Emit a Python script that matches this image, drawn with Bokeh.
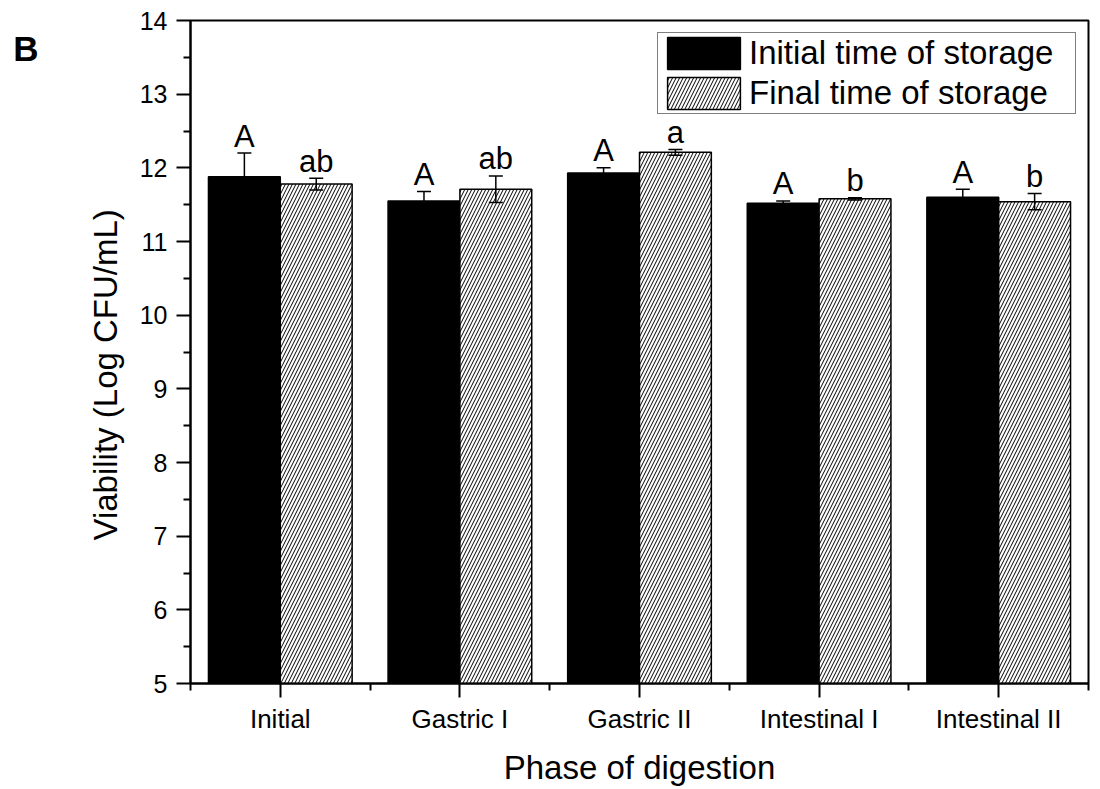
from bokeh.plotting import figure
from bokeh.models import (ColumnDataSource, Whisker, TeeHead, FixedTicker, Legend,
                          LegendItem, Range1d, Title, LinearAxis)
from bokeh.core.properties import value
from bokeh.embed import file_html
from bokeh.resources import INLINE

phases = ["Initial", "Gastric I", "Gastric II", "Intestinal I", "Intestinal II"]
initial_vals = [11.88, 11.55, 11.93, 11.52, 11.60]
initial_err = [0.32, 0.13, 0.07, 0.03, 0.11]
final_vals = [11.78, 11.71, 12.21, 11.58, 11.54]
final_err = [0.08, 0.18, 0.04, 0.015, 0.11]
initial_letters = ["A", "A", "A", "A", "A"]
final_letters = ["ab", "ab", "a", "b", "b"]
y_ticks = [5, 6, 7, 8, 9, 10, 11, 12, 13, 14]

FONT = "Liberation Sans"
pos = list(range(1, len(phases) + 1))
x_init = [p_ - 0.2 for p_ in pos]
x_fin = [p_ + 0.2 for p_ in pos]

src_i = ColumnDataSource(dict(x=x_init, top=initial_vals,
                              up=[v + e for v, e in zip(initial_vals, initial_err)],
                              lo=[v - e for v, e in zip(initial_vals, initial_err)],
                              lab=initial_letters))
src_f = ColumnDataSource(dict(x=x_fin, top=final_vals,
                              up=[v + e for v, e in zip(final_vals, final_err)],
                              lo=[v - e for v, e in zip(final_vals, final_err)],
                              lab=final_letters))

p = figure(width=1100, height=789, output_backend="svg", toolbar_location=None,
           x_range=Range1d(0.5, len(phases) + 0.5), y_range=Range1d(5, 14),
           min_border_left=190, min_border_right=12, min_border_top=20,
           min_border_bottom=106)
p.background_fill_color = "white"
p.border_fill_color = "white"
p.outline_line_color = "black"
p.outline_line_width = 2
p.xgrid.visible = False
p.ygrid.visible = False

r_i = p.vbar(x="x", top="top", bottom=5, width=0.4, source=src_i,
             fill_color="black", line_color="black", line_width=1.5)
r_f = p.vbar(x="x", top="top", bottom=5, width=0.4, source=src_f,
             fill_color="white", line_color="black", line_width=1.5,
             hatch_pattern="/", hatch_color="black", hatch_scale=7, hatch_weight=1)

for src in (src_i, src_f):
    w = Whisker(source=src, base="x", upper="up", lower="lo", level="overlay",
                line_color="black", line_width=1.5,
                upper_head=TeeHead(size=14, line_color="black", line_width=1.5),
                lower_head=TeeHead(size=14, line_color="black", line_width=1.5))
    p.add_layout(w)
    p.text(x="x", y="up", text="lab", source=src, text_align="center",
           text_baseline="alphabetic", y_offset=-17, text_font=value(FONT),
           text_font_size="31px", text_color="black")

# axes
xa = p.xaxis[0]
xa.ticker = FixedTicker(ticks=pos, minor_ticks=[p_ - 0.5 for p_ in pos] + [len(pos) + 0.5])
xa.major_label_overrides = {k: v for k, v in zip(pos, phases)}
xa.axis_label = "Phase of digestion"
ya = p.yaxis[0]
ya.ticker = FixedTicker(ticks=y_ticks, minor_ticks=[t + 0.5 for t in y_ticks[:-1]])

for ax in (xa, ya):
    ax.axis_line_width = 2
    ax.axis_line_color = "black"
    ax.major_tick_line_width = 2
    ax.minor_tick_line_width = 2
    ax.major_tick_in = 0
    ax.minor_tick_in = 0
    ax.major_tick_out = 14
    ax.minor_tick_out = 7
    ax.major_label_text_font = FONT
    ax.axis_label_text_font = FONT
    ax.axis_label_text_font_style = "normal"
    ax.axis_label_text_font_size = "33px"
    ax.major_label_text_color = "black"
    ax.axis_label_text_color = "black"
xa.major_label_text_font_size = "26px"
ya.major_label_text_font_size = "25px"
xa.major_label_standoff = 6
ya.major_label_standoff = 9
xa.axis_label_standoff = 12

p.add_layout(Title(text="Viability (Log CFU/mL)", text_font=FONT, text_font_size="33px",
                   text_font_style="normal", text_color="black", align="left",
                   offset=143, standoff=25), "left")

# panel letter "B" drawn as a one-tick label on an extra left axis
b_axis = LinearAxis(ticker=FixedTicker(ticks=[13.62], minor_ticks=[]),
                    major_label_overrides={13.62: "B"},
                    axis_line_color=None, major_tick_line_color=None,
                    minor_tick_line_color=None, major_label_standoff=28,
                    major_label_text_font=FONT, major_label_text_font_size="35px",
                    major_label_text_font_style="bold", major_label_text_color="black")
p.add_layout(b_axis, "left")

legend = Legend(items=[LegendItem(label="Initial time of storage", renderers=[r_i]),
                       LegendItem(label="Final time of storage", renderers=[r_f])],
                location="top_right", margin=12, padding=0, spacing=0,
                glyph_width=91, glyph_height=40, label_height=40, label_width=326,
                label_standoff=0, label_text_font=FONT, label_text_font_size="33px",
                label_text_color="black",
                border_line_color="black", border_line_width=1.5,
                background_fill_color="white", background_fill_alpha=1)
p.add_layout(legend)

open("out.html", "w").write(file_html(p, INLINE))
